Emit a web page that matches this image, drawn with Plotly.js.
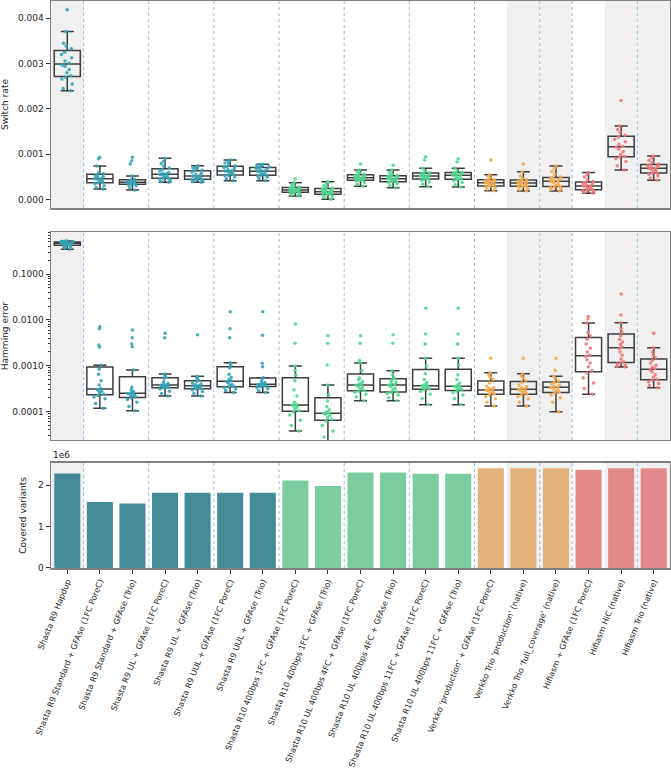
<!DOCTYPE html>
<html>
<head>
<meta charset="utf-8">
<script src="https://cdn.plot.ly/plotly-3.0.1.min.js"></script>
<style>body{margin:0;background:#fff}#chart{width:671px;height:769px}</style>
</head>
<body>
<div id="chart"></div>
<script>
const methods = [
  "Shasta R9 Hapdup",
  "Shasta R9 Standard + GFAse (1FC PoreC)",
  "Shasta R9 Standard + GFAse (Trio)",
  "Shasta R9 UL + GFAse (1FC PoreC)",
  "Shasta R9 UL + GFAse (Trio)",
  "Shasta R9 UUL + GFAse (1FC PoreC)",
  "Shasta R9 UUL + GFAse (Trio)",
  "Shasta R10 400bps 1FC + GFAse (1FC PoreC)",
  "Shasta R10 400bps 1FC + GFAse (Trio)",
  "Shasta R10 UL 400bps 4FC + GFAse (1FC PoreC)",
  "Shasta R10 UL 400bps 4FC + GFAse (Trio)",
  "Shasta R10 UL 400bps 11FC + GFAse (1FC PoreC)",
  "Shasta R10 UL 400bps 11FC + GFAse (Trio)",
  "Verkko 'production' + GFAse (1FC PoreC)",
  "Verkko Trio 'production' (native)",
  "Verkko Trio 'full_coverage' (native)",
  "Hifiasm + GFAse (1FC PoreC)",
  "Hifiasm HiC (native)",
  "Hifiasm Trio (native)"
];
// 0 = Shasta R9, 1 = Shasta R10, 2 = Verkko, 3 = Hifiasm
const methodGroup = [0,0,0,0,0,0,0,1,1,1,1,1,1,2,2,2,3,3,3];
// methods with grey background
const shaded = [0, 14, 15, 17, 18];
// dotted separator after these methods
const separatorAfter = [0, 2, 4, 6, 8, 10, 12, 14, 15, 17];

const switchRate = [
  [2.40e-3,2.45e-3,2.55e-3,2.66e-3,2.70e-3,2.73e-3,2.80e-3,2.87e-3,2.94e-3,2.97e-3,3.01e-3,3.06e-3,3.13e-3,3.20e-3,3.25e-3,3.33e-3,3.39e-3,3.45e-3,3.71e-3,4.19e-3],
  [0.236e-3,0.27e-3,0.31e-3,0.35e-3,0.37e-3,0.378e-3,0.40e-3,0.43e-3,0.45e-3,0.46e-3,0.468e-3,0.49e-3,0.51e-3,0.53e-3,0.545e-3,0.573e-3,0.60e-3,0.744e-3,0.905e-3,0.935e-3],
  [0.214e-3,0.27e-3,0.31e-3,0.33e-3,0.338e-3,0.346e-3,0.355e-3,0.365e-3,0.375e-3,0.382e-3,0.386e-3,0.395e-3,0.41e-3,0.42e-3,0.43e-3,0.45e-3,0.523e-3,0.788e-3,0.861e-3,0.935e-3],
  [0.384e-3,0.40e-3,0.43e-3,0.455e-3,0.468e-3,0.474e-3,0.50e-3,0.52e-3,0.54e-3,0.555e-3,0.567e-3,0.58e-3,0.60e-3,0.63e-3,0.66e-3,0.70e-3,0.74e-3,0.79e-3,0.85e-3,0.913e-3],
  [0.384e-3,0.40e-3,0.42e-3,0.44e-3,0.447e-3,0.455e-3,0.47e-3,0.49e-3,0.51e-3,0.52e-3,0.526e-3,0.55e-3,0.58e-3,0.61e-3,0.63e-3,0.65e-3,0.68e-3,0.70e-3,0.72e-3,0.751e-3],
  [0.42e-3,0.46e-3,0.50e-3,0.53e-3,0.54e-3,0.55e-3,0.57e-3,0.60e-3,0.62e-3,0.63e-3,0.638e-3,0.66e-3,0.69e-3,0.71e-3,0.725e-3,0.745e-3,0.78e-3,0.81e-3,0.84e-3,0.876e-3],
  [0.42e-3,0.47e-3,0.50e-3,0.52e-3,0.535e-3,0.545e-3,0.56e-3,0.58e-3,0.60e-3,0.62e-3,0.634e-3,0.65e-3,0.67e-3,0.69e-3,0.70e-3,0.725e-3,0.74e-3,0.755e-3,0.77e-3,0.781e-3],
  [0.082e-3,0.11e-3,0.13e-3,0.15e-3,0.16e-3,0.17e-3,0.18e-3,0.195e-3,0.205e-3,0.21e-3,0.218e-3,0.225e-3,0.24e-3,0.255e-3,0.26e-3,0.28e-3,0.30e-3,0.33e-3,0.376e-3,0.457e-3],
  [0.01e-3,0.05e-3,0.08e-3,0.10e-3,0.115e-3,0.125e-3,0.135e-3,0.15e-3,0.165e-3,0.175e-3,0.18e-3,0.19e-3,0.205e-3,0.225e-3,0.24e-3,0.255e-3,0.28e-3,0.31e-3,0.35e-3,0.397e-3],
  [0.296e-3,0.34e-3,0.38e-3,0.41e-3,0.425e-3,0.435e-3,0.45e-3,0.465e-3,0.475e-3,0.483e-3,0.489e-3,0.50e-3,0.515e-3,0.53e-3,0.54e-3,0.56e-3,0.59e-3,0.62e-3,0.656e-3,0.788e-3],
  [0.265e-3,0.31e-3,0.35e-3,0.38e-3,0.395e-3,0.40e-3,0.42e-3,0.44e-3,0.455e-3,0.46e-3,0.468e-3,0.48e-3,0.495e-3,0.51e-3,0.52e-3,0.535e-3,0.56e-3,0.60e-3,0.656e-3,0.76e-3],
  [0.288e-3,0.34e-3,0.39e-3,0.43e-3,0.452e-3,0.462e-3,0.48e-3,0.50e-3,0.51e-3,0.52e-3,0.526e-3,0.54e-3,0.555e-3,0.57e-3,0.578e-3,0.595e-3,0.63e-3,0.693e-3,0.876e-3,0.949e-3],
  [0.28e-3,0.33e-3,0.38e-3,0.42e-3,0.445e-3,0.455e-3,0.47e-3,0.49e-3,0.51e-3,0.535e-3,0.541e-3,0.555e-3,0.57e-3,0.585e-3,0.594e-3,0.605e-3,0.64e-3,0.693e-3,0.83e-3,0.898e-3],
  [0.199e-3,0.23e-3,0.26e-3,0.285e-3,0.30e-3,0.305e-3,0.32e-3,0.34e-3,0.36e-3,0.372e-3,0.38e-3,0.39e-3,0.405e-3,0.42e-3,0.43e-3,0.45e-3,0.48e-3,0.51e-3,0.552e-3,0.876e-3],
  [0.192e-3,0.22e-3,0.25e-3,0.28e-3,0.293e-3,0.30e-3,0.31e-3,0.33e-3,0.35e-3,0.365e-3,0.373e-3,0.38e-3,0.395e-3,0.41e-3,0.425e-3,0.44e-3,0.47e-3,0.52e-3,0.618e-3,0.788e-3],
  [0.192e-3,0.22e-3,0.25e-3,0.27e-3,0.285e-3,0.295e-3,0.32e-3,0.35e-3,0.38e-3,0.40e-3,0.412e-3,0.43e-3,0.45e-3,0.47e-3,0.482e-3,0.50e-3,0.56e-3,0.62e-3,0.68e-3,0.744e-3],
  [0.141e-3,0.16e-3,0.18e-3,0.20e-3,0.21e-3,0.225e-3,0.24e-3,0.26e-3,0.28e-3,0.30e-3,0.304e-3,0.32e-3,0.34e-3,0.36e-3,0.38e-3,0.40e-3,0.44e-3,0.50e-3,0.55e-3,0.60e-3],
  [0.656e-3,0.75e-3,0.84e-3,0.91e-3,0.94e-3,0.955e-3,1.00e-3,1.06e-3,1.12e-3,1.16e-3,1.18e-3,1.22e-3,1.28e-3,1.33e-3,1.38e-3,1.42e-3,1.48e-3,1.55e-3,1.627e-3,2.185e-3],
  [0.428e-3,0.48e-3,0.53e-3,0.56e-3,0.585e-3,0.595e-3,0.62e-3,0.65e-3,0.67e-3,0.69e-3,0.696e-3,0.71e-3,0.73e-3,0.75e-3,0.77e-3,0.785e-3,0.82e-3,0.87e-3,0.92e-3,0.965e-3]
];

const hammingError = [
  [0.345,0.37,0.39,0.41,0.418,0.425,0.435,0.445,0.455,0.463,0.47,0.475,0.48,0.49,0.497,0.505,0.51,0.515,0.52,0.523],
  [1.19e-4,1.5e-4,1.9e-4,2.1e-4,2.25e-4,2.4e-4,2.6e-4,2.8e-4,2.95e-4,3.05e-4,3.2e-4,3.8e-4,4.7e-4,6.5e-4,8.4e-4,10.3e-4,25.7e-4,28.4e-4,64e-4,71e-4],
  [1.05e-4,1.3e-4,1.6e-4,1.85e-4,2.0e-4,2.08e-4,2.2e-4,2.3e-4,2.4e-4,2.48e-4,2.56e-4,2.65e-4,2.8e-4,3.0e-4,3.4e-4,8.09e-4,26e-4,30e-4,41e-4,60e-4],
  [2.2e-4,2.5e-4,2.8e-4,3.1e-4,3.3e-4,3.36e-4,3.45e-4,3.55e-4,3.65e-4,3.78e-4,3.86e-4,3.95e-4,4.1e-4,4.5e-4,5.35e-4,5.6e-4,6.1e-4,6.62e-4,41e-4,51e-4],
  [2.2e-4,2.5e-4,2.75e-4,2.95e-4,3.12e-4,3.2e-4,3.3e-4,3.4e-4,3.5e-4,3.65e-4,3.73e-4,3.85e-4,4.0e-4,4.2e-4,4.6e-4,4.85e-4,5.2e-4,5.5e-4,5.9e-4,47.6e-4],
  [2.6e-4,2.9e-4,3.1e-4,3.3e-4,3.45e-4,3.55e-4,3.7e-4,3.9e-4,4.2e-4,4.5e-4,4.7e-4,5.0e-4,5.6e-4,6.5e-4,9.0e-4,10.0e-4,11.7e-4,40.9e-4,64.3e-4,151e-4],
  [2.6e-4,2.9e-4,3.15e-4,3.35e-4,3.48e-4,3.6e-4,3.7e-4,3.8e-4,3.88e-4,3.93e-4,3.99e-4,4.1e-4,4.3e-4,4.6e-4,5.3e-4,5.51e-4,9.55e-4,11.3e-4,46.2e-4,151e-4],
  [0.38e-4,0.5e-4,0.65e-4,0.85e-4,0.98e-4,1.05e-4,1.15e-4,1.25e-4,1.33e-4,1.38e-4,1.42e-4,1.6e-4,2.2e-4,3.0e-4,4.7e-4,6.3e-4,8.0e-4,9.9e-4,31e-4,81.5e-4],
  [0.2e-4,0.28e-4,0.38e-4,0.5e-4,0.62e-4,0.68e-4,0.75e-4,0.82e-4,0.88e-4,0.91e-4,0.94e-4,1.0e-4,1.1e-4,1.3e-4,1.7e-4,2.34e-4,3.82e-4,10.4e-4,31e-4,45.3e-4],
  [1.74e-4,2.1e-4,2.4e-4,2.65e-4,2.78e-4,2.9e-4,3.1e-4,3.3e-4,3.55e-4,3.75e-4,3.9e-4,4.1e-4,4.5e-4,5.0e-4,5.5e-4,7.81e-4,11.5e-4,13e-4,31e-4,45.3e-4],
  [1.74e-4,2.0e-4,2.3e-4,2.5e-4,2.65e-4,2.7e-4,3.0e-4,3.25e-4,3.5e-4,3.75e-4,3.9e-4,4.1e-4,4.4e-4,4.7e-4,5.05e-4,5.4e-4,6.3e-4,7.81e-4,31e-4,47.6e-4],
  [1.42e-4,1.9e-4,2.4e-4,2.8e-4,3.0e-4,3.15e-4,3.3e-4,3.45e-4,3.55e-4,3.65e-4,3.73e-4,3.9e-4,4.3e-4,5.0e-4,6.7e-4,9.9e-4,14.6e-4,29.9e-4,49.3e-4,179e-4],
  [1.42e-4,1.9e-4,2.3e-4,2.6e-4,2.8e-4,2.95e-4,3.1e-4,3.3e-4,3.45e-4,3.55e-4,3.61e-4,3.8e-4,4.2e-4,5.0e-4,6.3e-4,10.4e-4,14.6e-4,29.9e-4,49.3e-4,179e-4],
  [1.33e-4,1.6e-4,1.9e-4,2.15e-4,2.35e-4,2.42e-4,2.55e-4,2.7e-4,2.85e-4,2.93e-4,3.01e-4,3.15e-4,3.3e-4,3.6e-4,4.2e-4,5.1e-4,5.6e-4,6.3e-4,7.08e-4,14.6e-4],
  [1.33e-4,1.6e-4,1.9e-4,2.15e-4,2.35e-4,2.42e-4,2.6e-4,2.75e-4,2.9e-4,3.03e-4,3.13e-4,3.3e-4,3.5e-4,3.8e-4,4.25e-4,4.8e-4,5.4e-4,6.0e-4,6.73e-4,14.6e-4],
  [1.0e-4,1.6e-4,2.0e-4,2.3e-4,2.55e-4,2.65e-4,2.8e-4,2.95e-4,3.15e-4,3.35e-4,3.45e-4,3.6e-4,3.8e-4,4.05e-4,4.3e-4,4.6e-4,5.2e-4,5.9e-4,8.0e-4,14.6e-4],
  [2.39e-4,3.2e-4,4.2e-4,5.5e-4,7.0e-4,7.8e-4,9.5e-4,11.5e-4,13.5e-4,16e-4,17e-4,20e-4,24e-4,30e-4,38e-4,44.5e-4,53e-4,86e-4,104e-4,118e-4],
  [9.4e-4,9.8e-4,10.3e-4,11.0e-4,11.5e-4,12.2e-4,14e-4,17e-4,20e-4,23.5e-4,26e-4,29e-4,33e-4,38e-4,45e-4,53.5e-4,65e-4,87e-4,128e-4,366e-4],
  [3.34e-4,3.7e-4,4.1e-4,4.5e-4,4.85e-4,5.1e-4,5.7e-4,6.4e-4,7.3e-4,8.1e-4,8.7e-4,9.4e-4,10.3e-4,11.5e-4,13.2e-4,14.9e-4,17e-4,20e-4,24.8e-4,51e-4]
];

const coveredVariants = [2.285e6,1.595e6,1.56e6,1.82e6,1.82e6,1.82e6,1.82e6,2.115e6,1.985e6,2.31e6,2.31e6,2.28e6,2.28e6,2.415e6,2.415e6,2.415e6,2.375e6,2.415e6,2.415e6];

const pointColors = ["#34a3b7", "#4cd88e", "#f5a84e", "#f17777"];
const barColors = ["#438b96", "#7bcca0", "#e5b27b", "#e38b8b"];
const txt = "#262626";
const font = {family: "DejaVu Sans, sans-serif", size: 9, color: txt};

function boxTraces(values, xa, ya) {
  return methods.map((m, i) => ({
    type: "box",
    x: values[i].map(() => m),
    y: values[i],
    xaxis: xa, yaxis: ya,
    boxpoints: "all", jitter: 0.55, pointpos: 0,
    width: 0.8, whiskerwidth: 0.5,
    fillcolor: "rgba(0,0,0,0)",
    line: {color: "#3d3d3d", width: 1.5},
    marker: {color: pointColors[methodGroup[i]], size: 3.5, opacity: 0.9},
    showlegend: false, hoverinfo: "y"
  }));
}

const data = [
  ...boxTraces(switchRate, "x", "y"),
  ...boxTraces(hammingError, "x2", "y2"),
  {
    type: "bar", x: methods, y: coveredVariants, xaxis: "x3", yaxis: "y3",
    width: 0.8,
    marker: {color: methodGroup.map(g => barColors[g]), line: {width: 0}},
    showlegend: false
  }
];

const shapes = [];
["", "2", "3"].forEach(n => {
  shaded.forEach(i => shapes.push({
    type: "rect", xref: "x" + n, yref: "y" + n + " domain",
    x0: i - 0.5, x1: i + 0.5, y0: 0, y1: 1,
    fillcolor: "#f0f0f0", line: {width: 0}, layer: "below"
  }));
  separatorAfter.forEach(i => shapes.push({
    type: "line", xref: "x" + n, yref: "y" + n + " domain",
    x0: i + 0.5, x1: i + 0.5, y0: 0, y1: 1,
    line: {color: "#95c2e6", width: 1, dash: "dot"}, layer: "below"
  }));
});

const axisBase = {
  showline: true, mirror: true, linecolor: "#808080", linewidth: 1.5,
  showgrid: false, zeroline: false, tickfont: font, tickcolor: "#333"
};
const xBase = Object.assign({}, axisBase, {
  type: "category", categoryorder: "array", categoryarray: methods,
  range: [-0.5, methods.length - 0.5], ticks: "", showticklabels: false
});

const minorLog = [];
for (let e = -5; e <= -1; e++) for (let k = 2; k <= 9; k++) minorLog.push(k * Math.pow(10, e));

const layout = {
  width: 671, height: 769,
  margin: {l: 51, r: 1, t: 0, b: 201},
  paper_bgcolor: "#fff", plot_bgcolor: "#fff",
  font: font, boxmode: "overlay", bargap: 0.2,
  xaxis: Object.assign({}, xBase, {anchor: "y"}),
  xaxis2: Object.assign({}, xBase, {anchor: "y2"}),
  xaxis3: Object.assign({}, xBase, {
    anchor: "y3", ticks: "outside", ticklen: 4, showticklabels: true,
    tickangle: -68, tickfont: Object.assign({}, font, {size: 8.1})
  }),
  yaxis: Object.assign({}, axisBase, {
    domain: [0.6338, 0.9982], range: [-0.000183, 0.00438],
    tickvals: [0, 0.001, 0.002, 0.003, 0.004], tickformat: ".3f",
    ticks: "outside", ticklen: 4,
    title: {text: "Switch rate", font: font, standoff: 12}
  }),
  yaxis2: Object.assign({}, axisBase, {
    domain: [0.2254, 0.5915], type: "log", range: [-4.617, -0.085],
    tickvals: [1e-4, 1e-3, 1e-2, 1e-1], ticktext: ["0.0001", "0.0010", "0.0100", "0.1000"],
    ticks: "outside", ticklen: 4,
    minor: {tickmode: "array", tickvals: minorLog, ticks: "outside", ticklen: 2, tickcolor: "#333", showgrid: false},
    title: {text: "Hamming error", font: font, standoff: 8}
  }),
  yaxis3: Object.assign({}, axisBase, {
    domain: [0, 0.1849], range: [0, 2.54e6],
    tickvals: [0, 1e6, 2e6], ticktext: ["0", "1", "2"],
    ticks: "outside", ticklen: 4,
    title: {text: "Covered variants", font: font, standoff: 10}
  }),
  shapes: shapes,
  annotations: [{
    xref: "paper", yref: "paper", x: 0, y: 0.1849, xanchor: "left", yanchor: "bottom",
    text: "1e6", showarrow: false, font: font, yshift: 1
  }]
};

Plotly.newPlot("chart", data, layout, {displayModeBar: false, staticPlot: true});
</script>
</body>
</html>
